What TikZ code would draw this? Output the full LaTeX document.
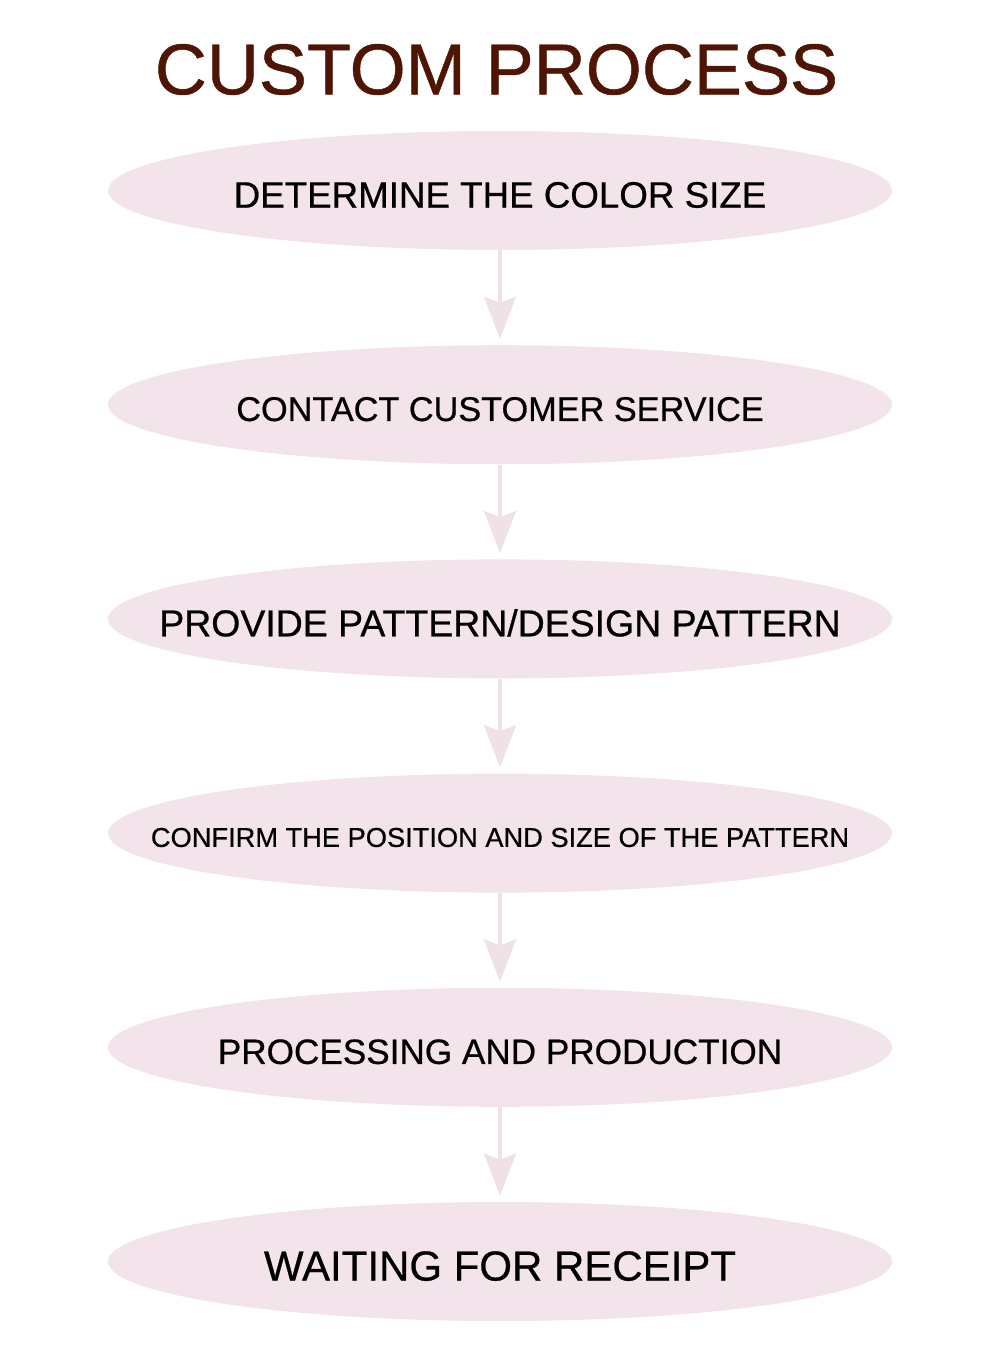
\documentclass[tikz,border=0pt]{standalone}
\usepackage{fontspec}
\setmainfont{Liberation Sans}
\newfontfamily\stepfont{Liberation Sans}[FakeBold=0.6]
\usepackage{xcolor}
\usetikzlibrary{shapes.geometric, arrows.meta, positioning}
\definecolor{titleBrown}{RGB}{78,20,4}
\definecolor{stepPink}{RGB}{242,228,234}
\definecolor{arrowPink}{RGB}{240,224,231}
% label set a little below the centre of its ellipse
\newcommand{\steptext}[1]{\makebox[0pt]{\smash{\raisebox{\dimexpr-0.358em-0.08cm}{#1}}}}

\begin{document}
\begin{tikzpicture}[
  node distance=1.89cm,
  title/.style={text=titleBrown, inner sep=0pt, font=\stepfont\fontsize{41}{48}\selectfont},
  stepbox/.style={ellipse, minimum width=15.68cm, minimum height=2.38cm, inner sep=0pt, fill=stepPink, text=black, font=\stepfont\fontsize{20.9}{24}\selectfont},
  arrow/.style={line width=0.08cm, arrowPink, -{Stealth[length=0.84cm, width=0.64cm, inset=0.12cm]}, shorten >=0.12cm}
]
\useasboundingbox (0,0) rectangle (20,-26.96);

% Title
\node (title) [title] at (9.93,-1.39) {CUSTOM PROCESS};

% Steps
\node (colour) [stepbox] at (10,-3.81) {\steptext{DETERMINE THE COLOR SIZE}};
\node (contact) [stepbox, below=of colour, font=\stepfont\fontsize{19.5}{24}\selectfont] {\steptext{CONTACT CUSTOMER SERVICE}};
\node (pattern) [stepbox, below=of contact, font=\stepfont\fontsize{21.3}{24}\selectfont] {\steptext{PROVIDE PATTERN/DESIGN PATTERN}};
\node (confirm) [stepbox, below=of pattern, font=\stepfont\fontsize{15.5}{18}\selectfont] {\steptext{CONFIRM THE POSITION AND SIZE OF THE PATTERN}};
\node (produce) [stepbox, below=of confirm, font=\stepfont\fontsize{20}{24}\selectfont] {\steptext{PROCESSING AND PRODUCTION}};
\node (receipt) [stepbox, below=of produce, font=\stepfont\fontsize{23.9}{28}\selectfont] {\steptext{WAITING FOR RECEIPT}};

% Arrows
\draw [arrow] (colour) -- (contact);
\draw [arrow] (contact) -- (pattern);
\draw [arrow] (pattern) -- (confirm);
\draw [arrow] (confirm) -- (produce);
\draw [arrow] (produce) -- (receipt);

\end{tikzpicture}
\end{document}
